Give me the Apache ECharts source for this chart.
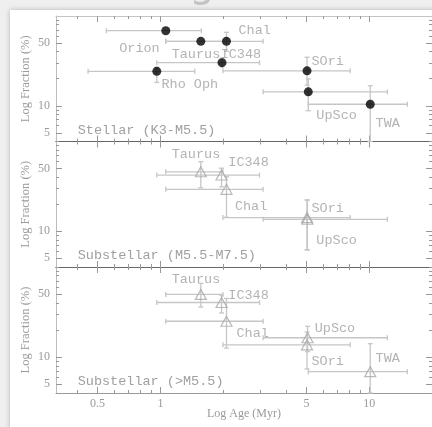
<!DOCTYPE html>
<html><head><meta charset="utf-8">
<script src="https://cdn.jsdelivr.net/npm/echarts@6/dist/echarts.min.js"></script>
<style>html,body{margin:0;padding:0;background:#efefef}#c{width:432px;height:427px}</style>
</head><body><div id="c"></div>
<script>
// ---- Panel 1: Stellar (K3-M5.5)
const stellarNames  = ['Orion','Taurus','Chal','IC348','Rho Oph','SOri','UpSco','TWA'];
const stellarAge    = [1.06, 1.56, 2.07, 1.97, 0.96, 5.03, 5.1, 10.1];
const stellarFrac   = [68.6, 52.2, 52.2, 30.2, 24.2, 24.5, 14.3, 10.4];
const stellarAgeLo  = [0.55, 1.06, 1.06, 0.96, 0.45, 1.99, 3.1, 5.1];
const stellarAgeHi  = [1.57, 1.99, 3.1, 2.98, 1.46, 8.1, 12.2, 15.2];
const stellarFracLo = [68.6, 52.2, 40.4, 27.0, 18.2, 17.0, 8.8, 4.0];
const stellarFracHi = [68.6, 52.2, 65.8, 34.0, 26.8, 34.7, 19.9, 16.7];
const stellarLabelAge  = [0.634, 1.13, 2.36, 1.94, 1.01, 5.28, 5.57, 10.7];
const stellarLabelFrac = [43.6, 37.0, 68.5, 37.0, 17.5, 31.3, 7.74, 6.41];

// ---- Panel 2: Substellar (M5.5-M7.5)
const midNames  = ['Taurus','IC348','Chal','SOri','UpSco'];
const midAge    = [1.56, 1.96, 2.07, 5.03, 5.05];
const midFrac   = [46, 42.3, 29.3, 14.2, 13.6];
const midAgeLo  = [1.06, 0.96, 1.06, 1.99, 3.1];
const midAgeHi  = [1.99, 2.98, 3.1, 8.1, 12.2];
const midFracLo = [30.5, 31.3, 14.3, 6.2, 6.2];
const midFracHi = [59.6, 50.4, 40.5, 22.3, 22.3];
const midLabelAge  = [1.13, 2.11, 2.27, 5.28, 5.57];
const midLabelFrac = [72.6, 58, 18.8, 18.0, 7.83];

// ---- Panel 3: Substellar (>M5.5)
const lateNames  = ['Taurus','IC348','Chal','UpSco','SOri','TWA'];
const lateAge    = [1.56, 1.96, 2.07, 5.06, 5.03, 10.1];
const lateFrac   = [49.6, 40.4, 25, 16.4, 13.7, 6.9];
const lateAgeLo  = [1.06, 0.96, 1.06, 3.1, 1.99, 5.1];
const lateAgeHi  = [1.99, 2.98, 3.1, 12.2, 8.1, 15.2];
const lateFracLo = [36, 30.9, 12.6, 11.5, 7.4, 4];
const lateFracHi = [65.8, 48.8, 44.8, 22, 19, 14.1];
const lateLabelAge  = [1.13, 2.11, 2.31, 5.47, 5.28, 10.7];
const lateLabelFrac = [73.5, 48.7, 18.2, 20.7, 9.0, 9.6];

const panelTitles = ['Stellar (K3-M5.5)', 'Substellar (M5.5-M7.5)', 'Substellar (>M5.5)'];

// ---- axis ticks
const ageRange = [0.316, 19.95];
const fracRange = [4, 100];
const xLabelTicks = [0.5, 1, 5, 10];
const xMinorTicks = [0.4, 0.6, 0.7, 0.8, 0.9, 2, 3, 4, 6, 7, 8, 9];
const yLabelTicks = [5, 10, 50];
const yMinorTicks = [4, 6, 7, 8, 9, 20, 30, 40, 60, 70, 80, 90];

const L = Math.log10;
const panels = [
  {names: stellarNames, age: stellarAge, frac: stellarFrac, aLo: stellarAgeLo, aHi: stellarAgeHi, fLo: stellarFracLo, fHi: stellarFracHi, lA: stellarLabelAge, lF: stellarLabelFrac},
  {names: midNames, age: midAge, frac: midFrac, aLo: midAgeLo, aHi: midAgeHi, fLo: midFracLo, fHi: midFracHi, lA: midLabelAge, lF: midLabelFrac},
  {names: lateNames, age: lateAge, frac: lateFrac, aLo: lateAgeLo, aHi: lateAgeHi, fLo: lateFracLo, fHi: lateFracHi, lA: lateLabelAge, lF: lateLabelFrac}
];
const layout = [{top: 16, height: 125.5}, {top: 141.5, height: 125.5}, {top: 267, height: 126}];
const panelTitleY = [130, 255, 381];

const grid = [], xAxis = [], yAxis = [], series = [], graphic = [];
const serif = 'Liberation Serif, DejaVu Serif, serif';
const mono = 'Liberation Mono, DejaVu Sans Mono, monospace';

graphic.push({type: 'rect', z: -100, shape: {x: 10, y: 10, width: 450, height: 450},
  style: {fill: '#ffffff', shadowBlur: 5, shadowColor: 'rgba(0,0,0,0.25)'}});
graphic.push({type: 'text', z: -90, x: 202, y: 6,
  style: {text: 'g', fill: '#c4c4c4', font: '40px DejaVu Sans', align: 'center', verticalAlign: 'bottom', textAlign: 'center', textVerticalAlign: 'bottom'}});

panels.forEach((p, i) => {
  grid.push({left: 56, width: 377, top: layout[i].top, height: layout[i].height});
  const last = i === 2;
  const bottomColor = last ? '#9a9a9a' : '#666';
  const mk = (pos, ticks, len, showLine, lineColor, labels) => ({
    type: 'value', gridIndex: i, position: pos, min: L(ageRange[0]), max: L(ageRange[1]),
    axisLine: {show: showLine, onZero: false, lineStyle: {color: lineColor, width: 1}},
    axisTick: {inside: true, length: len, customValues: ticks.map(L), lineStyle: {color: '#999', width: 1}},
    axisLabel: labels ? {show: true, customValues: xLabelTicks.map(L), margin: 5, color: '#9a9a9a',
      fontFamily: serif, fontSize: 12, formatter: v => String(Math.round(Math.pow(10, v) * 10) / 10)} : {show: false},
    splitLine: {show: false},
    name: labels ? 'Log Age (Myr)' : '', nameLocation: 'middle', nameGap: 15, nameMoveOverlap: false,
    nameTextStyle: {color: '#9a9a9a', fontFamily: serif, fontSize: 12}
  });
  xAxis.push(mk('bottom', xLabelTicks, 6, true, bottomColor, last));
  xAxis.push(mk('bottom', xMinorTicks, 3, false, bottomColor, false));
  xAxis.push(mk('top', xLabelTicks, 6, true, i === 0 ? '#c4c4c4' : '#666', false));
  xAxis.push(mk('top', xMinorTicks, 3, false, '#999', false));
  const mky = (pos, ticks, len, showLine, labels) => ({
    type: 'value', gridIndex: i, position: pos, min: L(fracRange[0]), max: L(fracRange[1]),
    axisLine: {show: showLine, onZero: false, lineStyle: {color: '#bdbdbd', width: 1}},
    axisTick: {inside: true, length: len, customValues: ticks.map(L), lineStyle: {color: '#999', width: 1}},
    axisLabel: labels ? {show: true, customValues: yLabelTicks.map(L), margin: 6, color: '#9a9a9a',
      fontFamily: serif, fontSize: 12, formatter: v => String(Math.round(Math.pow(10, v)))} : {show: false},
    splitLine: {show: false},
    name: labels ? 'Log Fraction (%)' : '', nameLocation: 'middle', nameGap: 24, nameRotate: 90, nameMoveOverlap: false,
    nameTextStyle: {color: '#9a9a9a', fontFamily: serif, fontSize: 12.5}
  });
  yAxis.push(mky('left', yLabelTicks, 6, true, true));
  yAxis.push(mky('left', yMinorTicks, 3, false, false));
  yAxis.push(mky('right', yLabelTicks, 6, true, false));
  yAxis.push(mky('right', yMinorTicks, 3, false, false));

  const xi = 4 * i, yi = 4 * i;
  // error bars
  series.push({
    type: 'custom', xAxisIndex: xi, yAxisIndex: yi, silent: true, z: 2,
    data: p.age.map((a, k) => [L(a), L(p.frac[k]), L(p.aLo[k]), L(p.aHi[k]), L(p.fLo[k]), L(p.fHi[k])]),
    encode: {x: [0, 2, 3], y: [1, 4, 5]},
    renderItem: (params, api) => {
      const xl = api.coord([api.value(2), api.value(1)]);
      const xh = api.coord([api.value(3), api.value(1)]);
      const yl = api.coord([api.value(0), api.value(4)]);
      const yh = api.coord([api.value(0), api.value(5)]);
      const st = {stroke: '#c6c6c6', lineWidth: 1.3};
      const cap = 2.5;
      const ln = (x1, y1, x2, y2) => ({type: 'line', shape: {x1, y1, x2, y2}, style: st});
      const ch = [ln(xl[0], xl[1], xh[0], xh[1]),
        ln(xl[0], xl[1] - cap, xl[0], xl[1] + cap), ln(xh[0], xh[1] - cap, xh[0], xh[1] + cap)];
      if (yl[1] - yh[1] > 1) {
        ch.push(ln(yl[0], yl[1], yh[0], yh[1]));
        ch.push(ln(yl[0] - cap, yl[1], yl[0] + cap, yl[1]));
        ch.push(ln(yh[0] - cap, yh[1], yh[0] + cap, yh[1]));
      }
      return {type: 'group', children: ch};
    }
  });
  // markers
  series.push({
    type: 'scatter', xAxisIndex: xi, yAxisIndex: yi, silent: true, z: 3,
    data: p.age.map((a, k) => [L(a), L(p.frac[k])]),
    symbol: i === 0 ? 'circle' : 'triangle',
    symbolSize: i === 0 ? 9 : [11, 10],
    itemStyle: i === 0 ? {color: '#000'} : {color: 'rgba(255,255,255,0)', borderColor: '#a8a8a8', borderWidth: 1.2}
  });
  // name labels
  series.push({
    type: 'scatter', xAxisIndex: xi, yAxisIndex: yi, silent: true, z: 4,
    symbolSize: 0.1, itemStyle: {color: 'rgba(0,0,0,0)'},
    data: p.names.map((n, k) => ({name: n, value: [L(p.lA[k]), L(p.lF[k])]})),
    label: {show: true, position: 'right', distance: 0, formatter: '{b}', color: '#a0a0a0',
      fontFamily: mono, fontSize: 13.5}
  });
  graphic.push({type: 'text', z: 10, x: 77.7, y: panelTitleY[i],
    style: {text: panelTitles[i], fill: '#a0a0a0', font: '13.5px ' + mono, verticalAlign: 'middle', textVerticalAlign: 'middle'}});
});

const chart = echarts.init(document.getElementById('c'), null, {renderer: 'canvas'});
chart.setOption({backgroundColor: '#efefef', animation: false, grid, xAxis, yAxis, series, graphic});
</script></body></html>
